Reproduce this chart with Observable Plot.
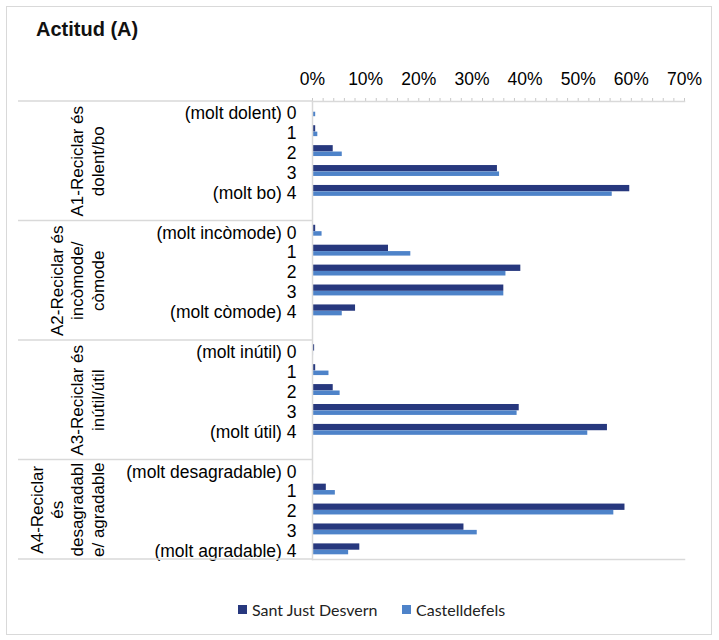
<!DOCTYPE html>
<html>
<head>
<meta charset="utf-8">
<script src="https://cdn.jsdelivr.net/npm/d3@7"></script>
<script src="https://cdn.jsdelivr.net/npm/@observablehq/plot@0.6"></script>
<style>
  body { margin: 0; background: #fff; }
  #wrap { position: relative; width: 719px; height: 640px; background: #fff; overflow: hidden; }
  #border { position: absolute; left: 6px; top: 6px; width: 704px; height: 627px; border: 1.5px solid #d9d9d9; }
  #title { position: absolute; left: 36px; top: 18px; font: bold 20px "Liberation Sans", Arial, sans-serif; color: #111; }
  #chart { position: absolute; left: 0; top: 0; }
  #legend { position: absolute; left: 0; top: 599px; width: 719px; height: 20px; font: 16px Lato, "Open Sans", sans-serif; color: #222; }
  .lg { position: absolute; top: 0; display: flex; align-items: center; height: 20px; white-space: nowrap; }
  .sw { width: 9px; height: 9px; margin-right: 5px; }
</style>
</head>
<body>
<div id="wrap">
  <div id="border"></div>
  <div id="title">Actitud (A)</div>
  <div id="chart"></div>
  <div id="legend"></div>
</div>
<script>
// ---- data ----
const groupIds = ["A1", "A2", "A3", "A4"];
const groupLabels = [
  "A1-Reciclar és\ndolent/bo",
  "A2-Reciclar és\nincòmode/\ncòmode",
  "A3-Reciclar és\ninútil/útil",
  "A4-Reciclar\nés\ndesagradabl\ne/ agradable"
];
const levelLabels = [
  ["(molt dolent) 0", "1", "2", "3", "(molt bo) 4"],
  ["(molt incòmode) 0", "1", "2", "3", "(molt còmode) 4"],
  ["(molt inútil) 0", "1", "2", "3", "(molt útil) 4"],
  ["(molt desagradable) 0", "1", "2", "3", "(molt agradable) 4"]
];
const seriesNames = ["Sant Just Desvern", "Castelldefels"];
const santJust = [
  [0, 0.6, 3.9, 34.8, 59.7],
  [0.6, 14.3, 39.2, 36.0, 8.1],
  [0.4, 0.6, 3.9, 38.9, 55.5],
  [0, 2.6, 58.8, 28.5, 8.9]
];
const castelldefels = [
  [0.6, 1.0, 5.6, 35.2, 56.4],
  [1.8, 18.5, 36.4, 36.0, 5.6],
  [0.2, 3.1, 5.2, 38.5, 51.8],
  [0.2, 4.3, 56.7, 31.0, 6.8]
];
const xTicks = [0, 10, 20, 30, 40, 50, 60, 70];
const xMinorTicks = [0,2,4,6,8,10,12,14,16,18,20,22,24,26,28,30,32,34,36,38,40,42,44,46,48,50,52,54,56,58,60,62,64,66,68,70];
const colors = ["#27387E", "#4E83C9"];

// ---- build tables ----
const keyOf = (g, l) => `${g}|${l}`;
const yDomain = [];
const labelMap = new Map();
const rowsSJ = [], rowsC = [];
groupIds.forEach((g, gi) => {
  levelLabels[gi].forEach((lab, li) => {
    const k = keyOf(g, li);
    yDomain.push(k);
    labelMap.set(k, lab);
    rowsSJ.push({key: k, value: santJust[gi][li]});
    rowsC.push({key: k, value: castelldefels[gi][li]});
  });
  if (gi < groupIds.length - 1) yDomain.push(keyOf(g, "gap"));
});
const tickKeys = yDomain.filter(k => labelMap.has(k));
const groupRows = groupIds.map((g, gi) => ({label: groupLabels[gi], anchor: keyOf(g, 2), last: gi === groupIds.length - 1}));

const font = `"Liberation Sans", Arial, sans-serif`;
const chart = Plot.plot({
  width: 719,
  height: 640,
  marginTop: 101,
  marginBottom: 81,
  marginLeft: 312,
  marginRight: 35,
  style: {fontFamily: font, fontSize: "17px", color: "#000", background: "transparent"},
  x: {domain: [0, 70], axis: null},
  y: {domain: yDomain, padding: 0, round: false, axis: null},
  marks: [
    Plot.axisX({anchor: "top", ticks: xMinorTicks, tickSize: 4, tickFormat: () => "", stroke: "#c8c8c8", label: null}),
    Plot.axisX({anchor: "top", ticks: xTicks, tickSize: 0, tickPadding: 17, tickFormat: d => d + "%", label: null, fontSize: 17.5}),
    Plot.axisY({ticks: tickKeys, tickSize: 0, tickPadding: 16, tickFormat: k => labelMap.get(k), label: null, dy: 2, fontSize: 17.5}),
    Plot.barX(rowsSJ, {x: "value", y: "key", fill: colors[0], insetTop: 4.3, insetBottom: 9.3}),
    Plot.barX(rowsC, {x: "value", y: "key", fill: colors[1], insetTop: 10.7, insetBottom: 4.7}),
    Plot.frame({anchor: "top", stroke: "#d9d9d9", strokeWidth: 1.5}),
    Plot.frame({anchor: "left", stroke: "#d9d9d9", strokeWidth: 1.5}),
    Plot.frame({anchor: "bottom", stroke: "#d9d9d9", strokeWidth: 1.5}),
    Plot.text(groupRows.filter(d => !d.last), {text: "label", y: "anchor", frameAnchor: "left", dx: -209, dy: 10, rotate: -90, textAnchor: "middle", lineAnchor: "bottom", lineHeight: 1.18, fontSize: 17}),
    Plot.text(groupRows.filter(d => d.last), {text: "label", y: "anchor", frameAnchor: "left", dx: -209, dy: 0, rotate: -90, textAnchor: "middle", lineAnchor: "bottom", lineHeight: 1.18, fontSize: 17})
  ]
});
document.getElementById("chart").appendChild(chart);

// separator lines in the category area (left margin), positioned from the y scale
const ys = chart.scale("y");
const svg = d3.select(chart);
const bounds = [ys.range[0], ...groupIds.slice(1).map(g => ys.apply(keyOf(g, 0))), ys.range[1]];
svg.append("g")
  .selectAll("line")
  .data(bounds)
  .join("line")
  .attr("x1", 18).attr("x2", 312)
  .attr("y1", d => d).attr("y2", d => d)
  .attr("stroke", "#d9d9d9").attr("stroke-width", 1.5);

// legend
const legend = document.getElementById("legend");
const legendX = [238, 402];
seriesNames.forEach((name, i) => {
  const item = document.createElement("div");
  item.className = "lg";
  item.style.left = legendX[i] + "px";
  const sw = document.createElement("span");
  sw.className = "sw";
  sw.style.background = colors[i];
  const t = document.createElement("span");
  t.textContent = name;
  item.appendChild(sw);
  item.appendChild(t);
  legend.appendChild(item);
});
</script>
</body>
</html>
